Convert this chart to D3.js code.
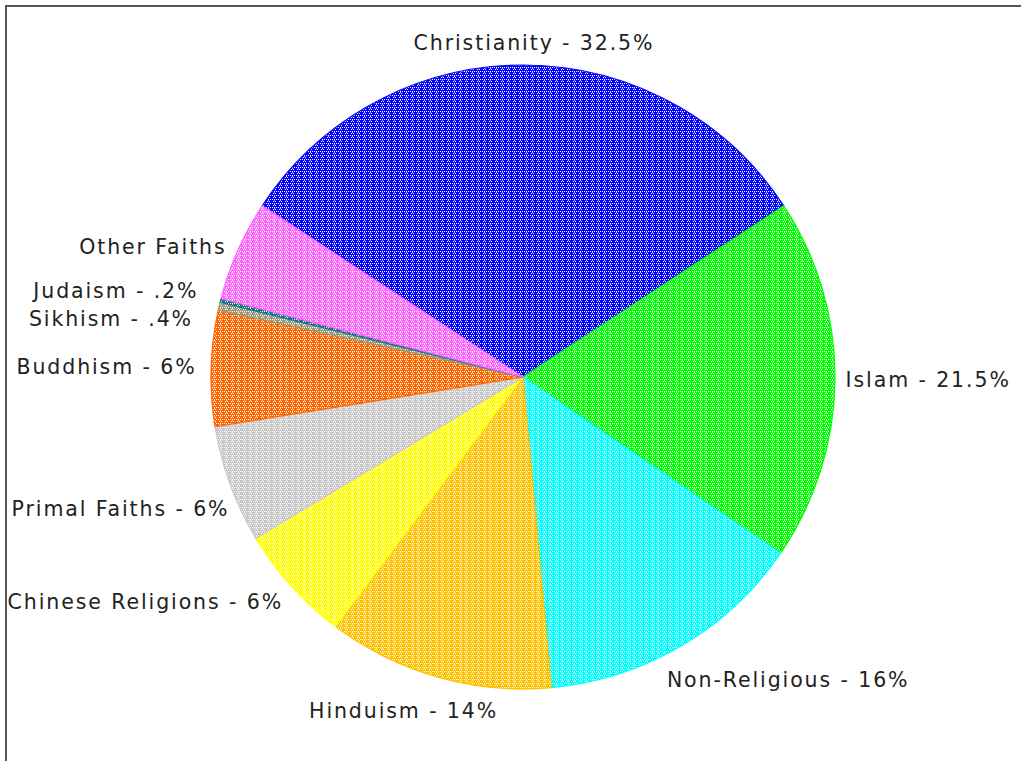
<!DOCTYPE html>
<html><head><meta charset="utf-8">
<script src="https://cdn.jsdelivr.net/npm/d3@7"></script>
<style>html,body{margin:0;padding:0;background:#fff;}svg{display:block;}</style>
</head><body>
<svg id="chart" width="1021" height="761"></svg>
<script>
const categories = ["Christianity","Islam","Non-Religious","Hinduism","Chinese Religions","Primal Faiths","Buddhism","Sikhism","Judaism","Other Faiths"];
const values = [31.5, 18.8, 14.0, 11.7, 6.1, 6.1, 6.0, 0.4, 0.2, 5.2];
const labels = ["Christianity - 32.5%","Islam - 21.5%","Non-Religious - 16%","Hinduism - 14%","Chinese Religions - 6%","Primal Faiths - 6%","Buddhism - 6%","Sikhism - .4%","Judaism - .2%","Other Faiths"];
const colors = ["#0000ff","#00ff00","#00ffff","#ffc000","#ffff00","#c8c8c8","#ff6600","#999977","#117788","#ff66ff"];
// label nudges relative to computed outer-arc anchor
const nudges = [[11,-6],[-5,0],[-22,20],[-30,19],[3,5],[14,19],[1,-1],[-11,16],[-7,-6],[3,3]];

const svg = d3.select("#chart");
const W = 1021, H = 761;
const cx = 523, cy = 377, R = 312;

// frame
svg.append("path").attr("d", `M6,${H+10} V6 H${W+10}`).attr("fill","none").attr("stroke","#555").attr("stroke-width",2);

const defs = svg.append("defs");
colors.forEach((c,i)=>{
  const p = defs.append("pattern").attr("id","pat"+i).attr("patternUnits","userSpaceOnUse")
    .attr("width",12).attr("height",4);
  p.append("rect").attr("width",12).attr("height",4).attr("fill",c);
  for (let x=1; x<12; x++) {
    if (x===6) continue;
    p.append("rect").attr("x",x).attr("y",(x%2)*2).attr("width",1).attr("height",1).attr("fill","#fff");
    if (x%3===0) p.append("rect").attr("x",x).attr("y",(x%2)*2+1).attr("width",1).attr("height",1).attr("fill","#fff").attr("opacity",0.7);
  }
});

const start = -56.7 * Math.PI/180;
const pie = d3.pie().sort(null).value(d=>d).startAngle(start).endAngle(start + 2*Math.PI);
const arcs = pie(values);
const arc = d3.arc().innerRadius(0).outerRadius(R);
const labelR = R*1.05;

const g = svg.append("g").attr("transform",`translate(${cx},${cy})`);
g.selectAll("path.slice").data(arcs).join("path").attr("class","slice")
  .attr("d",arc).attr("fill",(d,i)=>`url(#pat${i})`)
  .attr("stroke",(d,i)=>colors[i]).attr("stroke-width",1.2).attr("stroke-linejoin","round");

g.selectAll("text.lbl").data(arcs).join("text").attr("class","lbl")
  .each(function(d,i){
    const a = (d.startAngle + d.endAngle)/2;
    const s = Math.sin(a), c = -Math.cos(a);
    const x = labelR*s + nudges[i][0], y = labelR*c + nudges[i][1];
    const anchor = Math.abs(s) < 0.3 ? "middle" : (s > 0 ? "start" : "end");
    d3.select(this).attr("x",x).attr("y",y).attr("text-anchor",anchor)
      .attr("dominant-baseline","central").text(labels[i]);
  })
  .attr("font-family","DejaVu Sans, Verdana, sans-serif").attr("font-size",20.5)
  .attr("letter-spacing",1.9).attr("fill","#222");
</script>
</body></html>
